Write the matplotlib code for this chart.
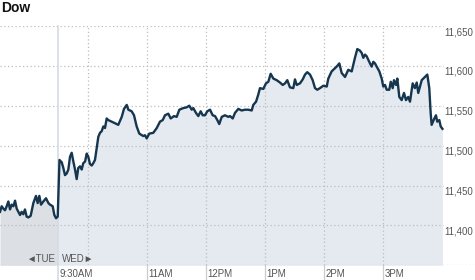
import matplotlib
matplotlib.use("Agg")
import matplotlib.pyplot as plt

# minutes relative to Wednesday 9:30AM (Tuesday's last hour is negative)
tue_minutes = [-59.3, -57.6, -55.9, -54.2, -52.5, -50.8, -49.1, -47.4, -45.7, -44.0,
               -42.3, -40.6, -38.9, -37.3, -35.6, -33.9, -32.2, -30.5, -28.1, -25.4,
               -22.7, -21.0, -19.3, -17.6, -15.2, -12.5, -10.1, -8.4, -5.7, -4.0,
               -2.3, -0.6]
tue_values = [11417, 11424, 11421, 11419, 11424, 11430, 11420, 11426, 11424, 11431,
              11421, 11417, 11413, 11417, 11414, 11420, 11411, 11410, 11412, 11428,
              11437, 11428, 11437, 11426, 11430, 11434, 11428, 11426, 11424, 11413,
              11409, 11411]

wed_minutes = [1.2, 3.5, 5.1, 6.8, 8.5, 10.2, 11.9, 13.6, 15.3, 17.0,
               18.7, 20.3, 22.1, 23.8, 25.4, 27.2, 28.9, 30.5, 32.2, 34.0,
               35.6, 37.3, 39.1, 40.7, 42.4, 44.1, 45.8, 47.5, 49.2, 50.8,
               54.3, 57.7, 61.0, 64.5, 66.8, 69.6, 71.2, 74.6, 77.0, 79.7,
               82.4, 86.4, 88.2, 89.9, 92.5, 96.6, 100.1, 103.4, 106.2, 108.5,
               111.9, 114.3, 117.7, 120.4, 123.1, 127.1, 130.6, 133.2, 135.7, 137.3,
               140.0, 142.4, 144.8, 146.9, 149.2, 151.5, 154.3, 157.0, 159.4, 161.7,
               163.7, 166.2, 169.5, 172.9, 174.6, 177.4, 179.7, 183.1, 186.5, 189.9,
               193.2, 196.7, 198.3, 201.1, 203.4, 205.1, 208.5, 211.2, 213.6, 216.0,
               218.7, 222.1, 225.5, 228.2, 230.6, 232.9, 235.6, 239.0, 240.7, 242.5,
               245.8, 248.6, 250.9, 253.2, 256.0, 258.7, 261.1, 263.4, 266.1, 269.5,
               273.0, 274.6, 278.0, 281.4, 283.1, 285.8, 288.2, 291.6, 294.9, 298.4,
               301.7, 304.1, 306.8, 308.6, 310.2, 311.9, 313.6, 317.0, 318.7, 320.4,
               322.1, 323.8, 326.5, 328.9, 330.5, 332.3, 334.0, 336.6, 338.1, 340.1,
               341.4, 343.5, 344.8, 346.8, 349.2, 351.6, 353.6, 355.9, 357.7, 360.4,
               362.7, 364.5, 366.1, 369.6, 372.9, 375.3, 377.3, 378.7, 379.7, 382.1,
               384.1, 385.4, 387.5, 388.9, 390.7]
wed_values = [11482, 11479, 11472, 11463, 11465, 11470, 11486, 11491, 11480, 11470,
              11458, 11472, 11474, 11470, 11478, 11480, 11490, 11486, 11477, 11475,
              11478, 11482, 11497, 11511, 11516, 11518, 11524, 11522, 11534, 11532,
              11530, 11528, 11526, 11536, 11546, 11551, 11545, 11543, 11538, 11524,
              11515, 11512, 11513, 11509, 11515, 11516, 11522, 11530, 11532, 11538,
              11540, 11534, 11537, 11536, 11545, 11547, 11548, 11550, 11545, 11547,
              11541, 11537, 11543, 11538, 11538, 11543, 11545, 11538, 11537, 11532,
              11527, 11536, 11538, 11536, 11537, 11534, 11541, 11546, 11544, 11545,
              11545, 11544, 11551, 11555, 11564, 11572, 11571, 11578, 11580, 11590,
              11584, 11582, 11579, 11576, 11578, 11582, 11573, 11572, 11583, 11576,
              11578, 11583, 11589, 11592, 11589, 11582, 11572, 11570, 11572, 11575,
              11574, 11584, 11593, 11597, 11599, 11603, 11591, 11586, 11595, 11593,
              11610, 11621, 11619, 11616, 11610, 11614, 11612, 11603, 11599, 11605,
              11603, 11599, 11593, 11584, 11574, 11576, 11570, 11570, 11580, 11572,
              11582, 11576, 11584, 11561, 11557, 11566, 11557, 11561, 11555, 11578,
              11572, 11579, 11566, 11582, 11586, 11589, 11572, 11541, 11526, 11533,
              11538, 11530, 11532, 11524, 11521]

y_ticks = [11400, 11450, 11500, 11550, 11600, 11650]
hour_lines = [30, 90, 150, 210, 270, 330]
time_ticks = [0, 90, 150, 210, 270, 330]
time_labels = ["9:30AM", "11AM", "12PM", "1PM", "2PM", "3PM"]

FONT = ["Liberation Sans", "DejaVu Sans"]
plt.rcParams["font.family"] = FONT

fig = plt.figure(figsize=(4.75, 2.8), dpi=100)
ax = fig.add_axes([0, 0.0525, 1, 0.855])
ax.set_xlim(-59.3, 423.8)
ax.set_ylim(11350, 11650)
ax.axis("off")

bottom = 11350
right_frac = 443 / 475

# fills
ax.fill_between(tue_minutes + [0], tue_values + [tue_values[-1]], bottom,
                color="#dcdfe3", lw=0, zorder=1)
ax.fill_between([0] + wed_minutes, [wed_values[0]] + wed_values, bottom,
                color="#e5eaf1", lw=0, zorder=1)

# grid
for v in y_ticks:
    ax.axhline(v, xmax=right_frac, color="#bdbdbd", lw=0.9, ls=(0, (1, 2)), zorder=2)
    ax.text(0.996, v - 1.5, f"{v:,}", transform=ax.get_yaxis_transform(),
            ha="right", va="top", fontsize=7, color="#555555")
ax.axhline(bottom, color="#bdbdbd", lw=0.9, ls=(0, (1, 2)), zorder=2)
for m in hour_lines:
    ax.axvline(m, color="#bdbdbd", lw=0.9, ls=(0, (1, 2)), zorder=2)
ax.axvline(0, ymin=-0.06, ymax=1, color="#d5dbe5", lw=1.2, zorder=2, clip_on=False)
for m, lab in zip(time_ticks, time_labels):
    if m != 0:
        ax.axvline(m, ymin=-0.06, ymax=0, color="#cccccc", lw=0.9, clip_on=False)
    ax.text(m + 1.5, -0.036, lab, transform=ax.get_xaxis_transform(),
            ha="left", va="center", fontsize=7, color="#555555")

# price line
ax.plot(tue_minutes + wed_minutes, tue_values + wed_values,
        color="#15364e", lw=1.7, solid_joinstyle="round", zorder=3)

ax.text(-3.4, 11358, "\u25c4TUE", ha="right", va="center", fontsize=7, color="#555555")
ax.text(3.5, 11358, "WED\u25ba", ha="left", va="center", fontsize=7, color="#555555")

fig.text(0.002, 0.97, "Dow", ha="left", va="center", fontsize=10,
         fontweight="bold", color="#111111")

fig.savefig("out.png", dpi=100, facecolor="white")
